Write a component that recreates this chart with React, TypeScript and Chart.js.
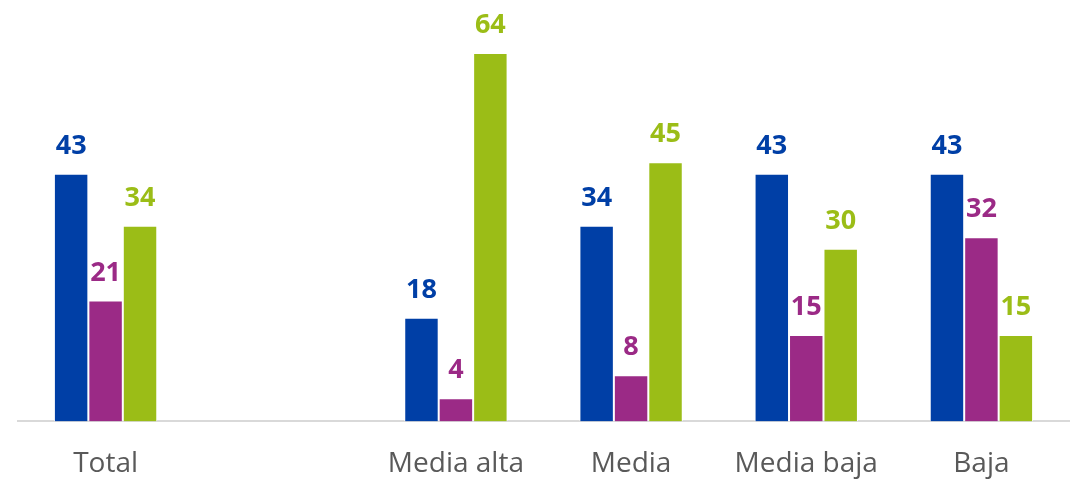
import React, { useEffect, useRef } from "react";
import { Chart, registerables } from "chart.js";

Chart.register(...registerables);

const categories = ["Total", "", "Media alta", "Media", "Media baja", "Baja"];
const seriesBlue = [43, null, 18, 34, 43, 43];
const seriesPurple = [21, null, 4, 8, 15, 32];
const seriesGreen = [34, null, 64, 45, 30, 15];
const colors = ["#003FA6", "#9B2A86", "#9BBD17"];

const labelPlugin = {
  id: "valueLabels",
  afterDatasetsDraw(chart: any) {
    const ctx = chart.ctx;
    ctx.save();
    ctx.font = "bold 27px 'Open Sans'";
    ctx.textAlign = "center";
    ctx.textBaseline = "alphabetic";
    chart.data.datasets.forEach((ds: any, i: number) => {
      const meta = chart.getDatasetMeta(i);
      meta.data.forEach((el: any, j: number) => {
        const v = ds.data[j];
        if (v === null || v === undefined) return;
        ctx.fillStyle = colors[i];
        ctx.fillText(String(v), el.x, el.y - 20);
      });
    });
    ctx.restore();
  },
};

export default function App() {
  const ref = useRef<HTMLCanvasElement | null>(null);
  useEffect(() => {
    if (!ref.current) return;
    const chart = new Chart(ref.current, {
      type: "bar",
      data: {
        labels: categories,
        datasets: [
          { data: seriesBlue, backgroundColor: colors[0], borderColor: "#ffffff", borderWidth: 1 },
          { data: seriesPurple, backgroundColor: colors[1], borderColor: "#ffffff", borderWidth: 1 },
          { data: seriesGreen, backgroundColor: colors[2], borderColor: "#ffffff", borderWidth: 1 },
        ] as any,
      },
      options: {
        animation: false,
        responsive: true,
        maintainAspectRatio: false,
        layout: { padding: { left: 18, right: 5, top: 0, bottom: 0 } },
        datasets: { bar: { categoryPercentage: 0.59, barPercentage: 1 } },
        plugins: { legend: { display: false }, tooltip: { enabled: false } },
        scales: {
          y: { display: false, min: 0, max: 73.2 },
          x: {
            grid: { display: false, drawTicks: false },
            border: { display: true, color: "#D9D9D9", width: 2 },
            ticks: { color: "#595959", font: { family: "'Open Sans'", size: 28 }, padding: 26 },
          },
        },
      },
      plugins: [labelPlugin],
    });
    return () => chart.destroy();
  }, []);
  return (
    <div style={{ position: "fixed", left: 0, top: 0, width: 1074, height: 507, background: "#fff" }}>
      <canvas ref={ref} />
    </div>
  );
}
